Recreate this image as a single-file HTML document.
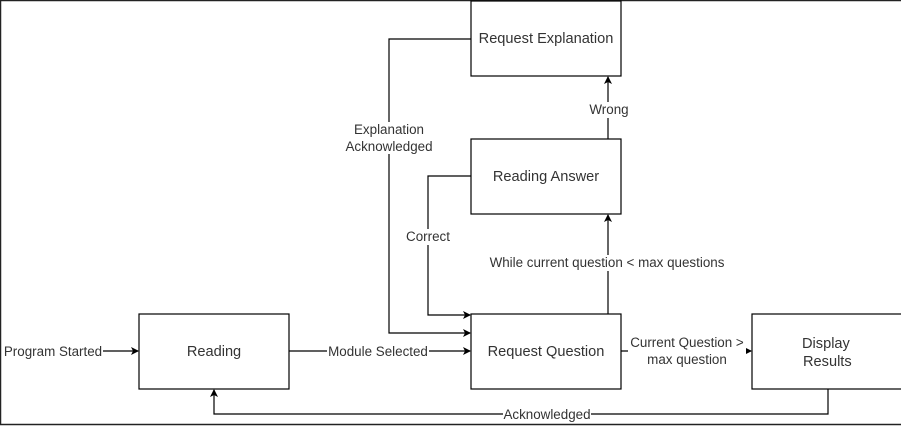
<!DOCTYPE html>
<html><head><style>
body{margin:0;background:#fff;}
svg{display:block;font-family:"Liberation Sans",Arial,sans-serif;}
</style></head><body>
<svg width="901" height="426" viewBox="0 0 901 426" xmlns="http://www.w3.org/2000/svg">
<defs><marker id="a" markerWidth="8" markerHeight="8" refX="7" refY="4" orient="auto" markerUnits="userSpaceOnUse"><path d="M0,0 L8,4 L0,8 L2,4 z" fill="#000"/></marker></defs>
<rect x="0.5" y="0.5" width="905" height="424" fill="none" stroke="#222" stroke-width="1.5"/>
<g fill="#fff" stroke="#000" stroke-width="1.2">
<rect x="139" y="314" width="150" height="75"/>
<rect x="471" y="314" width="150" height="75"/>
<rect x="471" y="139" width="150" height="75"/>
<rect x="471" y="1" width="150" height="75"/>
<rect x="752" y="314" width="152" height="75"/>
</g>
<g fill="none" stroke="#000" stroke-width="1.2" marker-end="url(#a)">
<path d="M103 351 H138"/>
<path d="M289 351 H470"/>
<path d="M471 176 H428 V315 H470"/>
<path d="M471 39 H389 V333 H470"/>
<path d="M608 314 V215"/>
<path d="M608 139 V77"/>
<path d="M621 351 H751"/>
<path d="M828 389 V414 H214 V390"/>
</g>
<g font-size="14.6" fill="#333" text-anchor="middle">
<text x="214" y="356">Reading</text>
<text x="546" y="356">Request Question</text>
<text x="546" y="181">Reading Answer</text>
<text x="546" y="43">Request Explanation</text>
<text x="802" y="348" text-anchor="start">Display</text>
<text x="803" y="366" text-anchor="start">Results</text>
</g>
<g font-size="13.4" fill="#333" text-anchor="middle">
<rect x="3" y="343" width="100" height="16" fill="#fff"/>
<text x="53" y="356">Program Started</text>
<rect x="327" y="343" width="102" height="16" fill="#fff"/>
<text x="378" y="356">Module Selected</text>
<rect x="349" y="122" width="80" height="32" fill="#fff"/>
<text x="389" y="134">Explanation</text>
<text x="389" y="151">Acknowledged</text>
<rect x="404" y="229" width="48" height="16" fill="#fff"/>
<text x="428" y="241">Correct</text>
<rect x="486" y="255" width="242" height="16" fill="#fff"/>
<text x="607" y="267">While current question &lt; max questions</text>
<rect x="588" y="102" width="42" height="16" fill="#fff"/>
<text x="609" y="114">Wrong</text>
<rect x="628" y="335" width="118" height="32" fill="#fff"/>
<text x="687" y="347">Current Question &gt;</text>
<text x="687" y="364">max question</text>
<rect x="503" y="407" width="88" height="14" fill="#fff"/>
<text x="547" y="419">Acknowledged</text>
</g>
</svg>
</body></html>
